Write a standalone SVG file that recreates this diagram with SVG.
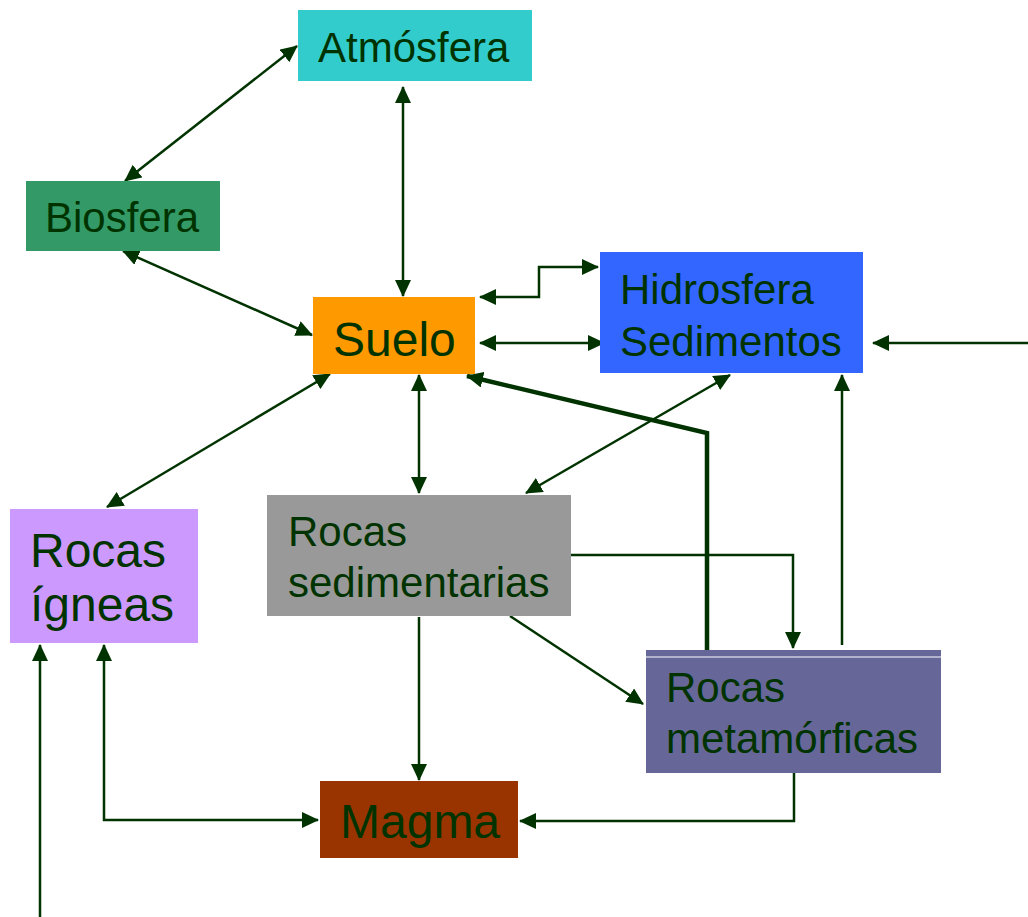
<svg xmlns="http://www.w3.org/2000/svg" width="1028" height="917" viewBox="0 0 1028 917">
<style>
.t{font-family:"Liberation Sans",Arial,sans-serif;fill:#003300}
.s42{font-size:42px}
.s48{font-size:48px}
.c{fill:none;stroke:#003300;stroke-width:2.5}
.k{fill:none;stroke:#003300;stroke-width:4.5}
</style>
<defs>
<marker id="a" markerUnits="userSpaceOnUse" markerWidth="18" markerHeight="16" refX="16" refY="8" orient="auto-start-reverse" viewBox="0 0 18 16">
<path d="M0,0 L17,8 L0,16 Z" fill="#003300"/>
</marker>
</defs>
<rect width="1028" height="917" fill="#ffffff"/>
<g id="connectors">
<line class="c" x1="125" y1="181" x2="297" y2="46" marker-start="url(#a)" marker-end="url(#a)"/>
<line class="c" x1="403" y1="87" x2="403" y2="296" marker-start="url(#a)" marker-end="url(#a)"/>
<line class="c" x1="123" y1="251" x2="312" y2="335" marker-start="url(#a)" marker-end="url(#a)"/>
<polyline class="c" points="480,297 539,297 539,267 598,267" marker-start="url(#a)" marker-end="url(#a)"/>
<line class="c" x1="480" y1="343" x2="604" y2="343" marker-start="url(#a)" marker-end="url(#a)"/>
<line class="c" x1="1028" y1="343" x2="873" y2="343" marker-end="url(#a)"/>
<line class="c" x1="330" y1="374" x2="107" y2="507" marker-start="url(#a)" marker-end="url(#a)"/>
<line class="c" x1="419" y1="375" x2="419" y2="493" marker-start="url(#a)" marker-end="url(#a)"/>
<line class="c" x1="730" y1="375" x2="526" y2="493" marker-start="url(#a)" marker-end="url(#a)"/>
<polyline class="k" points="707,658 707,433 467,376" marker-end="url(#a)"/>
<polyline class="c" points="571,555 793,555 793,648" marker-end="url(#a)"/>
<line class="c" x1="842" y1="645" x2="842" y2="375" marker-end="url(#a)"/>
<line class="c" x1="510" y1="616" x2="643" y2="704" marker-end="url(#a)"/>
<line class="c" x1="419" y1="617" x2="419" y2="780" marker-end="url(#a)"/>
<polyline class="c" points="104,645 104,820 318,820" marker-start="url(#a)" marker-end="url(#a)"/>
<line class="c" x1="40" y1="917" x2="40" y2="645" marker-end="url(#a)"/>
<polyline class="c" points="794,773 794,821 520,821" marker-end="url(#a)"/>
</g>
<g id="atmosfera">
<rect x="298" y="10" width="234" height="71" fill="#33CCCC"/>
<text class="t s42" x="318" y="62">Atmósfera</text>
</g>
<g id="biosfera">
<rect x="26" y="181" width="194" height="70" fill="#339966"/>
<text class="t s42" x="45" y="232">Biosfera</text>
</g>
<g id="suelo">
<rect x="313" y="297" width="162" height="77" fill="#FF9900"/>
<text class="t s48" x="333" y="356">Suelo</text>
</g>
<g id="hidrosfera">
<rect x="600" y="252" width="263" height="121" fill="#3366FF"/>
<text class="t s42" x="620" y="304">Hidrosfera</text>
<text class="t s42" x="620" y="356">Sedimentos</text>
</g>
<g id="rocas-igneas">
<rect x="10" y="509" width="188" height="134" fill="#CC99FF"/>
<text class="t s48" x="30" y="567">Rocas</text>
<text class="t s48" x="30" y="621">ígneas</text>
</g>
<g id="rocas-sedimentarias">
<rect x="267" y="495" width="304" height="121" fill="#999999"/>
<text class="t s42" x="288" y="546">Rocas</text>
<text class="t s42" x="288" y="597">sedimentarias</text>
</g>
<g id="rocas-metamorficas">
<rect x="646" y="650" width="295" height="123" fill="#666699"/>
<line x1="646" y1="657" x2="941" y2="657" stroke="#ffffff" stroke-width="1"/>
<text class="t s42" x="666" y="702">Rocas</text>
<text class="t s42" x="666" y="753">metamórficas</text>
</g>
<g id="magma">
<rect x="320" y="781" width="198" height="77" fill="#993300"/>
<text class="t s48" x="340" y="838">Magma</text>
</g>
</svg>
